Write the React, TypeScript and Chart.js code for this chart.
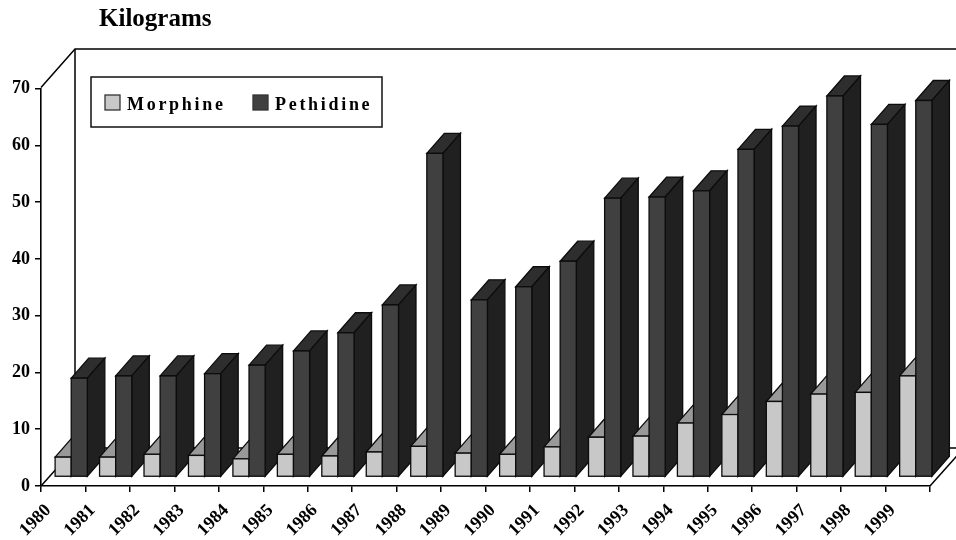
import React, { useEffect, useRef } from "react";
import { Chart, registerables } from "chart.js";

Chart.register(...registerables);

const years = ["1980","1981","1982","1983","1984","1985","1986","1987","1988","1989","1990","1991","1992","1993","1994","1995","1996","1997","1998","1999"];
const morphine = [3.5,3.5,4,3.8,3.2,4,3.7,4.4,5.4,4.2,4,5.3,7,7.2,9.5,11,13.3,14.6,14.9,17.8];
const pethidine = [17.4,17.8,17.8,18.2,19.7,22.2,25.4,30.3,57,31.2,33.5,38,49.1,49.3,50.4,57.7,61.8,67.1,62.1,66.3];

const SERIF = '"Liberation Serif", "Times New Roman", serif';
const INK = "#000000";
const EDGE = "#0c0c0c";

// Oblique projection: back wall offset, bar row offset and bar depth, in pixels.
const WALL = { dx: 34, floorDy: -38, topY: 49, topStart: 1 };
const ROW = { dx: 8, dy: -9 };
const BAR = { dx: 17.5, dy: -20 };

const shades = [
  { front: "#c8c8c8", top: "#999999", side: "#8a8a8a" },
  { front: "#404040", top: "#2e2e2e", side: "#202020" },
];

function poly(ctx: CanvasRenderingContext2D, pts: number[][], fill: string | null, stroke: string, width: number) {
  ctx.beginPath();
  pts.forEach(([x, y], i) => (i ? ctx.lineTo(x, y) : ctx.moveTo(x, y)));
  if (fill) {
    ctx.closePath();
    ctx.fillStyle = fill;
    ctx.fill();
  }
  ctx.strokeStyle = stroke;
  ctx.lineWidth = width;
  ctx.stroke();
}

// Walls and floor edges behind the bars, tied to the chart area.
const framePlugin = {
  id: "frame3d",
  beforeDraw(chart: any) {
    const ctx = chart.ctx;
    const { left, right, top, bottom } = chart.chartArea;
    ctx.save();
    const bx = left + WALL.dx;
    const bw = bottom + WALL.floorDy;
    const far = right + WALL.dx;
    poly(ctx, [[left, top - WALL.topStart], [bx, WALL.topY], [far, WALL.topY]], null, INK, 1.5);
    poly(ctx, [[bx, WALL.topY], [bx, bw], [far, bw]], null, INK, 1.5);
    poly(ctx, [[left, bottom], [bx, bw]], null, INK, 1.5);
    poly(ctx, [[right, bottom], [far, bw]], null, INK, 1.5);
    ctx.restore();
  },
};

// Bars are painted left to right so nearer faces hide the ones behind them.
const barsPlugin = {
  id: "bars3d",
  beforeDatasetsDraw(chart: any) {
    const ctx = chart.ctx;
    ctx.save();
    ctx.translate(ROW.dx, ROW.dy);
    years.forEach((_, i) => {
      chart.data.datasets.forEach((_d: any, d: number) => {
        const el = chart.getDatasetMeta(d).data[i];
        const l = el.x - el.width / 2;
        const r = el.x + el.width / 2;
        const t = el.y;
        const b = el.base;
        const s = shades[d];
        poly(ctx, [[l, t], [l + BAR.dx, t + BAR.dy], [r + BAR.dx, t + BAR.dy], [r, t]], s.top, EDGE, 1.3);
        poly(ctx, [[r, t], [r + BAR.dx, t + BAR.dy], [r + BAR.dx, b + BAR.dy], [r, b]], s.side, EDGE, 1.3);
        el.draw(ctx);
        ctx.strokeStyle = EDGE;
        ctx.lineWidth = 1.3;
        ctx.strokeRect(l, t, r - l, b - t);
      });
    });
    ctx.restore();
    return false;
  },
};

// Title and boxed legend sit inside the plot, so they are painted by hand.
const annotationPlugin = {
  id: "annotations",
  afterDraw(chart: any) {
    const ctx = chart.ctx;
    ctx.save();
    ctx.textBaseline = "alphabetic";
    ctx.textAlign = "left";
    ctx.fillStyle = INK;
    ctx.font = `bold 25px ${SERIF}`;
    ctx.fillText("Kilograms", 99, 26);

    ctx.fillStyle = "#ffffff";
    ctx.strokeStyle = "#111111";
    ctx.lineWidth = 1.5;
    ctx.fillRect(91, 77, 291, 50);
    ctx.strokeRect(91, 77, 291, 50);

    ctx.font = `bold 18px ${SERIF}`;
    (ctx as any).letterSpacing = "2.7px";
    const slots = [105, 253];
    chart.data.datasets.forEach((d: any, i: number) => {
      ctx.fillStyle = d.backgroundColor;
      ctx.fillRect(slots[i], 95, 15, 15);
      ctx.strokeStyle = "#333333";
      ctx.lineWidth = 1.3;
      ctx.strokeRect(slots[i], 95, 15, 15);
      ctx.fillStyle = INK;
      ctx.fillText(d.label, slots[i] + 22, 110);
    });
    ctx.restore();
  },
};

export default function App() {
  const ref = useRef<HTMLCanvasElement>(null);
  useEffect(() => {
    const chart = new Chart(ref.current as HTMLCanvasElement, {
      type: "bar",
      data: {
        labels: years,
        datasets: [
          { label: "Morphine", data: morphine, backgroundColor: shades[0].front, borderWidth: 0 },
          { label: "Pethidine", data: pethidine, backgroundColor: shades[1].front, borderWidth: 0 },
        ],
      },
      options: {
        animation: false,
        responsive: false,
        layout: { padding: { top: 88.5, right: 26, left: 0, bottom: 0 } },
        datasets: { bar: { categoryPercentage: 0.725, barPercentage: 1 } },
        plugins: { legend: { display: false }, title: { display: false }, tooltip: { enabled: false } },
        scales: {
          x: {
            type: "category",
            offset: true,
            grid: { offset: true, drawOnChartArea: false, drawTicks: true, tickLength: 6, color: INK, lineWidth: 1.5 },
            border: { color: INK, width: 1.6 },
            ticks: {
              color: INK,
              font: { family: SERIF, weight: "bold", size: 18 },
              minRotation: 45,
              maxRotation: 45,
              autoSkip: false,
              labelOffset: -15,
              padding: 8,
            },
            afterFit(scale: any) {
              scale.height = 54;
            },
          },
          y: {
            min: 0,
            max: 70,
            ticks: { stepSize: 10, color: INK, font: { family: SERIF, weight: "bold", size: 18 }, padding: 5 },
            grid: { drawOnChartArea: false, drawTicks: true, tickLength: 6, color: INK, lineWidth: 1.5 },
            border: { color: INK, width: 1.6 },
            afterFit(scale: any) {
              scale.width = 41;
            },
          },
        },
      },
      plugins: [framePlugin, barsPlugin, annotationPlugin],
    } as any);
    return () => chart.destroy();
  }, []);
  return (
    <div style={{ position: "fixed", left: 0, top: 0, width: 956, height: 540, background: "#ffffff", overflow: "hidden" }}>
      <canvas ref={ref} width={956} height={540} style={{ display: "block" }} />
    </div>
  );
}
